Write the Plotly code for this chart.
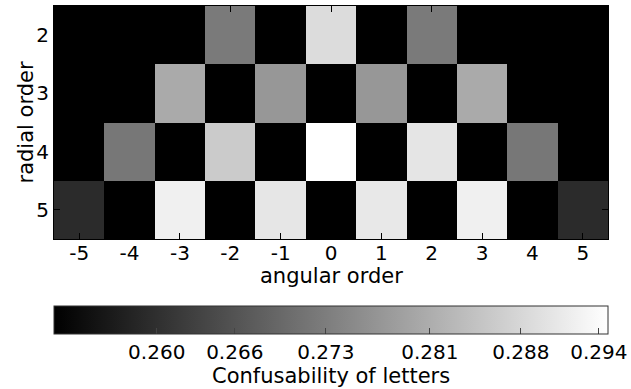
import plotly.graph_objects as go

VMIN = 0.2521
VMAX = 0.2947
B = VMIN

angular_order = [-5, -4, -3, -2, -1, 0, 1, 2, 3, 4, 5]
radial_order = [2, 3, 4, 5]

row_n2 = [B, B, B, 0.2725, B, 0.2889, B, 0.2725, B, B, B]
row_n3 = [B, B, 0.2805, B, 0.2773, B, 0.2773, B, 0.2805, B, B]
row_n4 = [B, 0.2720, B, 0.2860, B, 0.2947, B, 0.2904, B, 0.2720, B]
row_n5 = [0.2593, B, 0.2922, B, 0.2906, B, 0.2908, B, 0.2922, B, 0.2593]

cbar_tickvals = [0.260, 0.266, 0.273, 0.281, 0.288, 0.294]
cbar_ticktext = ["0.260", "0.266", "0.273", "0.281", "0.288", "0.294"]

FONT = "DejaVu Sans"
TICK_SIZE = 20
TITLE_SIZE = 21

TOP, BOTTOM, LEFT, RIGHT = 6, 150, 54, 23
PLOT_BOTTOM = 389 - BOTTOM
PAPER_H = 389 - TOP - BOTTOM
PAPER_W = 631 - LEFT - RIGHT


def py(pixel_y):
    return (PLOT_BOTTOM - pixel_y) / PAPER_H


fig = go.Figure(
    go.Heatmap(
        x=angular_order,
        y=radial_order,
        z=[row_n2, row_n3, row_n4, row_n5],
        zmin=VMIN,
        zmax=VMAX,
        colorscale=[[0, "rgb(0,0,0)"], [1, "rgb(255,255,255)"]],
        colorbar=dict(
            orientation="h",
            x=0.5,
            xanchor="center",
            y=py(306),
            yanchor="top",
            lenmode="pixels",
            len=PAPER_W,
            thickness=28,
            xpad=0,
            ypad=0,
            outlinewidth=1,
            outlinecolor="#333333",
            tickvals=cbar_tickvals,
            ticktext=cbar_ticktext,
            ticks="inside",
            ticklen=6,
            tickcolor="#444444",
            tickfont=dict(family=FONT, size=TICK_SIZE, color="black"),
        ),
    )
)

axis_common = dict(
    ticks="inside",
    ticklen=6,
    tickcolor="black",
    showline=True,
    linecolor="black",
    linewidth=1,
    mirror="ticks",
    showgrid=False,
    zeroline=False,
    tickfont=dict(family=FONT, size=TICK_SIZE, color="black"),
)

fig.update_xaxes(
    tickvals=angular_order,
    ticktext=[str(v) for v in angular_order],
    range=[-5.5, 5.5],
    ticklabelstandoff=-4,
    **axis_common,
)
fig.update_yaxes(
    tickvals=radial_order,
    ticktext=[str(v) for v in radial_order],
    range=[5.5, 1.5],
    **axis_common,
)

title_font = dict(family=FONT, size=TITLE_SIZE, color="black")
fig.add_annotation(text="angular order", xref="paper", yref="paper",
                   x=0.5, y=py(276), xanchor="center", yanchor="middle",
                   showarrow=False, font=title_font)
fig.add_annotation(text="radial order", xref="paper", yref="paper",
                   x=-29 / PAPER_W, y=0.5, xanchor="center", yanchor="middle",
                   textangle=-90, showarrow=False, font=title_font)
fig.add_annotation(text="Confusability of letters", xref="paper", yref="paper",
                   x=0.5, y=py(376), xanchor="center", yanchor="middle",
                   showarrow=False, font=title_font)

fig.update_layout(
    width=631,
    height=389,
    margin=dict(l=LEFT, r=RIGHT, t=TOP, b=BOTTOM, autoexpand=False),
    paper_bgcolor="white",
    plot_bgcolor="white",
    font=dict(family=FONT, size=TICK_SIZE, color="black"),
)

fig.write_html("out.html")
